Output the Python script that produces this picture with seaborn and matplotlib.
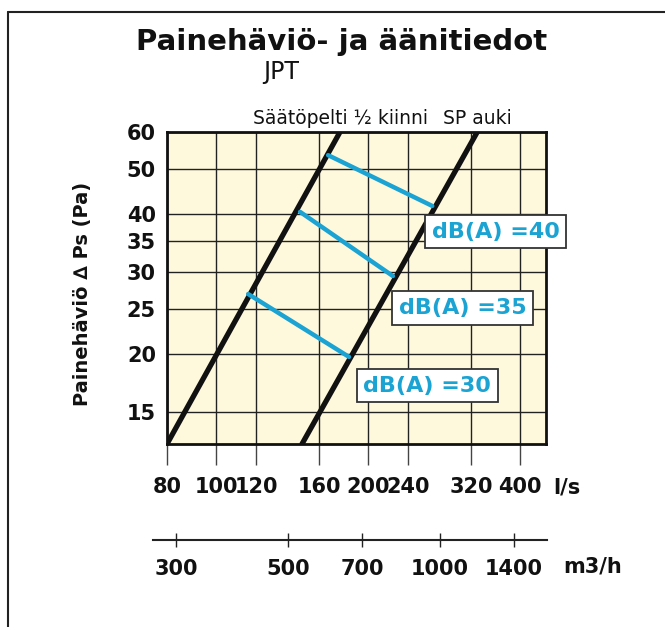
import numpy as np
import pandas as pd
import matplotlib
matplotlib.use("Agg")
import matplotlib.pyplot as plt
import seaborn as sns
from matplotlib.lines import Line2D

# Data (flow l/s, pressure drop Pa)
q_half = [80, 176]          # Säätöpelti ½ kiinni
p_half = [12.8, 60]
q_open = [148, 329]         # SP auki
p_open = [12.8, 60]

db_levels = [40, 35, 30]
db_q = [[166.7, 268], [146.7, 224], [115.8, 183.4]]
db_p = [[53.5, 41.6], [40.4, 29.4], [26.9, 19.7]]
db_label_q = [358, 308, 262]
db_label_p = [36.6, 25.1, 17.1]

x_ticks = [80, 100, 120, 160, 200, 240, 320, 400]
y_ticks = [15, 20, 25, 30, 35, 40, 50, 60]
m3h_ticks = [300, 500, 700, 1000, 1400]

sns.set_style("ticks")
plt.rcParams["font.family"] = ["DejaVu Sans"]
plt.rcParams["text.color"] = "#111111"
plt.rcParams["xtick.labelcolor"] = "#111111"
plt.rcParams["ytick.labelcolor"] = "#111111"
plt.rcParams["axes.labelcolor"] = "#111111"

blue = "#1BA3D3"
cream = "#FEF9DC"

fig = plt.figure(figsize=(6.65, 6.27), dpi=100)
ax = fig.add_axes([167 / 665, 1 - 444 / 627, 379 / 665, 312 / 627])
ax.set_xscale("log")
ax.set_yscale("log")
ax.set_xlim(80, 450)
ax.set_ylim(12.8, 60)
ax.set_facecolor(cream)

ax.set_xticks(x_ticks)
ax.set_xticklabels([str(v) for v in x_ticks], fontsize=15, fontweight="bold")
ax.set_yticks(y_ticks)
ax.set_yticklabels([str(v) for v in y_ticks], fontsize=15, fontweight="bold")
ax.minorticks_off()
ax.tick_params(axis="x", direction="out", length=15, width=1, color="#444444", pad=9)
ax.tick_params(axis="y", length=0, pad=8)
ax.grid(True, color="#222222", linewidth=1)
for s in ax.spines.values():
    s.set_color("#111111")
    s.set_linewidth(2)

# black curves
lines = pd.DataFrame({
    "q": q_half + q_open,
    "p": p_half + p_open,
    "curve": ["half"] * len(q_half) + ["open"] * len(q_open),
})
sns.lineplot(data=lines, x="q", y="p", units="curve", estimator=None, sort=False,
             color="#111111", linewidth=3.8, ax=ax, legend=False)

# noise level lines
for lvl, qs, ps, lq, lp in zip(db_levels, db_q, db_p, db_label_q, db_label_p):
    sns.lineplot(x=qs, y=ps, sort=False, color=blue, linewidth=3.2, ax=ax)
    ax.text(lq, lp, f"dB(A) ={lvl}", color=blue, fontsize=16, fontweight="bold",
            ha="center", va="center", zorder=5, clip_on=False,
            bbox=dict(boxstyle="square,pad=0.3", fc="white", ec="#333333", lw=1.3))

ax.set_xlabel("")
ax.set_ylabel("Painehäviö \u2206 Ps (Pa)", fontsize=14, fontweight="bold")
ax.yaxis.set_label_coords(-(167 - 92) / 379, 0.48)
ax.text(1.018, -0.138, "l/s", transform=ax.transAxes, fontsize=15,
        fontweight="bold", ha="left", va="center")

# second scale in m3/h
ax2 = fig.add_axes([153 / 665, 1 - 540 / 627, 394 / 665, 0.001])
ax2.set_xscale("log")
ax2.set_xlim(270, 1628)
ax2.set_facecolor("none")
for k in ["top", "left", "right"]:
    ax2.spines[k].set_visible(False)
ax2.spines["bottom"].set_color("#222222")
ax2.spines["bottom"].set_linewidth(1.5)
ax2.set_yticks([])
ax2.set_xticks(m3h_ticks)
ax2.set_xticklabels([str(v) for v in m3h_ticks], fontsize=15, fontweight="bold")
ax2.minorticks_off()
ax2.tick_params(axis="x", direction="inout", length=10, width=1, color="#222222", pad=9)
ax2.text(563 / 665, 1 - 567 / 627, "m3/h", transform=fig.transFigure, fontsize=15,
         fontweight="bold", ha="left", va="center")

# titles and curve names
fig.text(342 / 665, 1 - 50 / 627, "Painehäviö- ja äänitiedot", fontsize=21,
         fontweight="bold", ha="center", va="baseline")
fig.text(263 / 665, 1 - 79 / 627, "JPT", fontsize=17, ha="left", va="baseline")
fig.text(253 / 665, 1 - 124 / 627, "Säätöpelti ½ kiinni", fontsize=13.5,
         ha="left", va="baseline")
fig.text(443 / 665, 1 - 124 / 627, "SP auki", fontsize=13.5, ha="left", va="baseline")

# outer frame (left and top edges)
fig.add_artist(Line2D([8 / 665, 8 / 665], [0, 1 - 12 / 627], transform=fig.transFigure,
                      color="#222222", lw=1.5))
fig.add_artist(Line2D([8 / 665, 1], [1 - 12 / 627, 1 - 12 / 627], transform=fig.transFigure,
                      color="#222222", lw=1.5))

fig.savefig("out.png", dpi=100)
